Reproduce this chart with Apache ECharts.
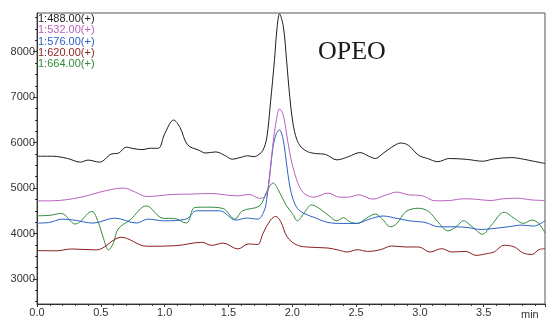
<!DOCTYPE html>
<html>
<head>
<meta charset="utf-8">
<script src="https://cdn.jsdelivr.net/npm/echarts@6/dist/echarts.min.js"></script>
<style>
  html, body { margin: 0; padding: 0; background: #fff; }
  #chart { width: 547px; height: 320px; }
</style>
</head>
<body>
<div id="chart"></div>
<script>
// channel names (ion traces)
const traceNames = ['1:488.00(+)', '1:532.00(+)', '1:576.00(+)', '1:620.00(+)', '1:664.00(+)'];
const traceColors = ['#1e1e1e', '#b860bc', '#2a62c4', '#8a1c1c', '#2f8a3c'];

// [time (min), intensity]
const trace488 = [
    [0, 5700], [0.12, 5700], [0.24, 5650], [0.34, 5570], [0.40, 5615], [0.49, 5570],
    [0.58, 5745], [0.64, 5770], [0.70, 5900], [0.76, 5865], [0.83, 5845], [0.88, 5875],
    [0.95, 5875], [1.0, 6190], [1.07, 6495], [1.12, 6335], [1.18, 5950], [1.27, 5830],
    [1.32, 5770], [1.40, 5795], [1.47, 5720], [1.53, 5635], [1.59, 5670], [1.65, 5710],
    [1.70, 5690], [1.74, 5740], [1.77, 5830], [1.80, 6100], [1.83, 6900], [1.86, 7800],
    [1.88, 8500], [1.90, 8830], [1.93, 8550], [1.955, 7820], [1.98, 7015], [2.005, 6430],
    [2.035, 6070], [2.07, 5900], [2.12, 5800], [2.18, 5760], [2.26, 5740], [2.35, 5620],
    [2.44, 5690], [2.53, 5780], [2.60, 5700], [2.65, 5650], [2.71, 5760], [2.78, 5900],
    [2.85, 5990], [2.91, 5940], [2.99, 5720], [3.06, 5650], [3.14, 5580], [3.23, 5650],
    [3.37, 5630], [3.49, 5590], [3.58, 5640], [3.72, 5670], [3.81, 5635], [3.89, 5590],
    [3.98, 5540]
];
const trace532 = [
    [0, 4718], [0.12, 4720], [0.33, 4790], [0.53, 4937], [0.68, 5000],
    [0.77, 4910], [0.86, 4814], [1.07, 4860], [1.20, 4867], [1.36, 4880],
    [1.575, 4828], [1.66, 4860], [1.745, 4775], [1.785, 4810], [1.81, 4974],
    [1.85, 6000], [1.876, 6505], [1.90, 6740], [1.928, 6615], [1.954, 6215], [1.98, 5777],
    [2.006, 5450], [2.033, 5193], [2.06, 5010], [2.10, 4865], [2.17, 4800], [2.28, 4889],
    [2.37, 4800], [2.44, 4800], [2.52, 4852], [2.63, 4756], [2.74, 4852], [2.82, 4911],
    [2.91, 4852], [3.02, 4830], [3.12, 4719], [3.23, 4726], [3.34, 4763], [3.43, 4756],
    [3.55, 4726], [3.65, 4763], [3.76, 4778], [3.87, 4740], [3.98, 4726]
];
const trace576 = [
    [0, 4230], [0.09, 4240], [0.20, 4317], [0.30, 4290], [0.44, 4230], [0.61, 4339],
    [0.78, 4230], [0.87, 4317], [0.99, 4280], [1.17, 4320], [1.25, 4500], [1.43, 4500],
    [1.56, 4295], [1.64, 4340], [1.73, 4317], [1.78, 4500], [1.80, 4755], [1.825, 5340],
    [1.85, 5920], [1.876, 6200], [1.90, 6280], [1.928, 6070], [1.954, 5560], [1.98, 5045],
    [2.006, 4755], [2.04, 4556], [2.09, 4444], [2.17, 4356], [2.28, 4244], [2.39, 4222],
    [2.50, 4222], [2.60, 4311], [2.71, 4385], [2.82, 4333], [2.93, 4274], [3.04, 4244],
    [3.15, 4148], [3.26, 4148], [3.37, 4133], [3.48, 4089], [3.58, 4111], [3.69, 4148],
    [3.80, 4185], [3.89, 4163], [3.98, 4281]
];
const trace620 = [
    [0, 3624], [0.15, 3620], [0.27, 3660], [0.465, 3640], [0.66, 3917], [0.86, 3720],
    [1.09, 3733], [1.29, 3807], [1.37, 3740], [1.458, 3790], [1.575, 3660], [1.655, 3770],
    [1.73, 3760], [1.77, 4000], [1.83, 4296], [1.87, 4376], [1.91, 4259], [1.96, 3926],
    [2.03, 3756], [2.11, 3704], [2.28, 3681], [2.37, 3630], [2.43, 3593], [2.51, 3644],
    [2.59, 3607], [2.69, 3644], [2.78, 3726], [2.89, 3704], [2.99, 3704], [3.08, 3593],
    [3.17, 3667], [3.25, 3593], [3.36, 3607], [3.44, 3519], [3.52, 3556], [3.58, 3593],
    [3.66, 3741], [3.74, 3704], [3.81, 3570], [3.88, 3541], [3.93, 3644], [3.98, 3667]
];
const trace664 = [
    [0, 4390], [0.10, 4400], [0.19, 4442], [0.30, 4208], [0.43, 4486], [0.48, 4245],
    [0.52, 3900], [0.56, 3640], [0.60, 3800], [0.635, 4098], [0.73, 4302], [0.857, 4608],
    [0.99, 4333], [1.07, 4333], [1.17, 4230], [1.236, 4573], [1.33, 4580], [1.458, 4550],
    [1.55, 4317], [1.61, 4500], [1.745, 4610], [1.80, 4926], [1.85, 5111], [1.89, 4963],
    [1.95, 4630], [2.00, 4444], [2.04, 4281], [2.10, 4481], [2.15, 4630], [2.21, 4556],
    [2.28, 4407], [2.35, 4281], [2.40, 4348], [2.45, 4259], [2.51, 4222], [2.58, 4333],
    [2.65, 4430], [2.70, 4333], [2.77, 4148], [2.82, 4222], [2.89, 4481], [2.99, 4556],
    [3.07, 4481], [3.14, 4259], [3.22, 4059], [3.29, 4163], [3.34, 4281], [3.41, 4148],
    [3.49, 3985], [3.56, 4185], [3.66, 4467], [3.74, 4333], [3.81, 4222], [3.88, 4296],
    [3.93, 4222], [3.98, 4015]
];
const traces = [trace488, trace532, trace576, trace620, trace664];

const yMajorTicks = [3000, 4000, 5000, 6000, 7000, 8000];
const yMinorTicks = [2500, 2750, 3250, 3500, 3750, 4250, 4500, 4750, 5250, 5500, 5750,
    6250, 6500, 6750, 7250, 7500, 7750, 8250, 8500, 8750];

const chart = echarts.init(document.getElementById('chart'));

const axisColor = '#333';
const labelFont = { fontFamily: 'Liberation Sans, Arial', fontSize: 11, color: '#333' };

const option = {
    animation: false,
    title: {
        text: 'OPEO',
        left: 313,
        top: 34,
        textStyle: {
            fontFamily: 'Liberation Serif, Times New Roman',
            fontSize: 26,
            fontWeight: 'normal',
            color: '#1a1a1a',
        },
    },
    legend: {
        orient: 'vertical',
        left: 33,
        top: 13,
        padding: 0,
        itemGap: 0,
        itemWidth: 0,
        itemHeight: 11.7,
        icon: 'none',
        selectedMode: false,
        textStyle: { fontFamily: 'Liberation Sans, Arial', fontSize: 11 },
        data: traceNames.map((n, i) => ({ name: n, textStyle: { color: traceColors[i] } })),
    },
    grid: {
        left: 37,
        right: 2,
        top: 13,
        bottom: 15,
        show: true,
        borderColor: '#555',
        borderWidth: 1,
    },
    xAxis: {
        type: 'value',
        min: 0,
        max: 3.98,
        interval: 0.5,
        name: 'min',
        nameLocation: 'end',
        nameGap: -24,
        nameTextStyle: { ...labelFont, verticalAlign: 'top', padding: [5, 0, 0, 0] },
        axisLine: { lineStyle: { color: axisColor, width: 1 } },
        axisTick: { inside: false, length: 3, lineStyle: { color: axisColor } },
        minorTick: { show: true, splitNumber: 5, length: 2, lineStyle: { color: axisColor } },
        splitLine: { show: false },
        axisLabel: {
            ...labelFont,
            margin: 3,
            showMaxLabel: false,
            formatter: (v) => v.toFixed(1),
        },
    },
    yAxis: [
        {
            type: 'value',
            min: 2450,
            max: 8850,
            axisLine: { show: true, lineStyle: { color: axisColor, width: 1 } },
            axisTick: { show: true, inside: false, length: 4, customValues: yMajorTicks, lineStyle: { color: axisColor } },
            splitLine: { show: false },
            axisLabel: { ...labelFont, margin: 2, customValues: yMajorTicks, formatter: (v) => String(v) },
        },
        {
            type: 'value',
            min: 2450,
            max: 8850,
            position: 'left',
            axisLine: { show: false },
            axisTick: { show: true, inside: false, length: 2, customValues: yMinorTicks, lineStyle: { color: axisColor } },
            splitLine: { show: false },
            axisLabel: { show: false },
        },
    ],
    series: traces.map((d, i) => ({
        name: traceNames[i],
        type: 'line',
        data: d,
        smooth: 0.35,
        symbol: 'none',
        color: traceColors[i],
        lineStyle: { width: 1, color: traceColors[i] },
        z: 5 - i,
    })),
};

chart.setOption(option);
</script>
</body>
</html>
